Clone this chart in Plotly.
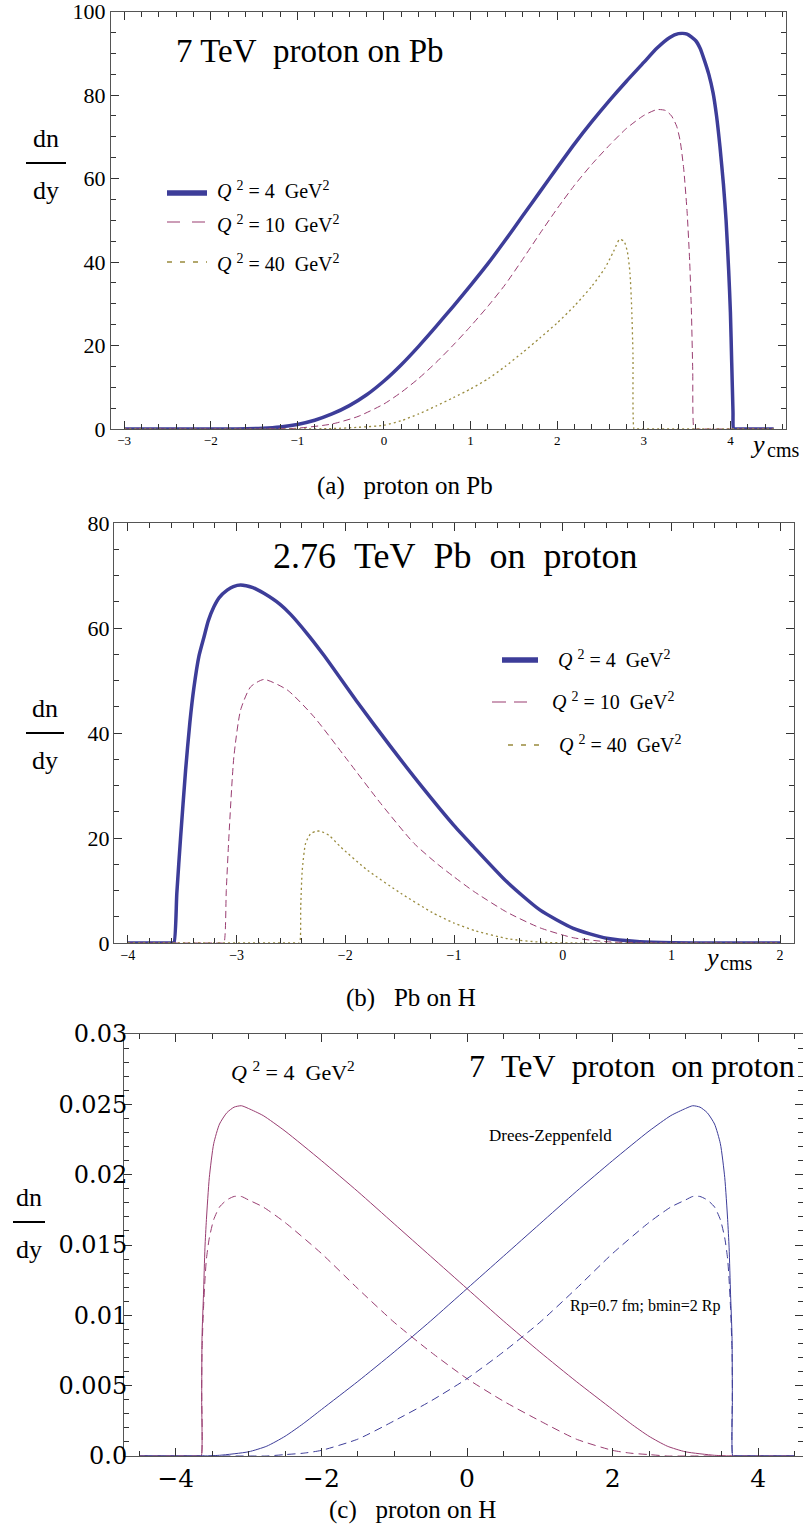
import plotly.graph_objects as go

W, H = 803, 1532

# ---------------- Panel (a): 7 TeV proton on Pb ----------------
a_q4_x = [-3.0, -2.0, -1.7, -1.4, -1.2, -1.0, -0.8, -0.6, -0.4, -0.2, 0.0, 0.2, 0.4, 0.6, 0.8,
          1.0, 1.2, 1.4, 1.6, 1.8, 2.0, 2.2, 2.4, 2.6, 2.8, 3.0, 3.15, 3.3, 3.4, 3.5, 3.6, 3.65, 3.7,
          3.75, 3.8, 3.84, 3.88, 3.92, 3.95, 3.98, 4.0, 4.015, 4.03, 4.035, 4.05, 4.5]
a_q4_y = [0, 0, 0.0, 0.2, 0.5, 1.1, 2.1, 3.6, 5.6, 8.2, 11.5, 15.4, 19.8, 24.5, 29.4,
          34.4, 39.6, 45.2, 51.0, 56.8, 62.6, 68.3, 73.6, 78.6, 83.3, 87.8, 91.2, 93.8, 94.7, 94.6, 93.0, 91.2, 88.3,
          85.0, 80.5, 75.0, 67.5, 58.5, 50.0, 38.0, 28.0, 16.0, 4.0, 0, 0, 0]

a_q10_x = [-3.0, -1.4, -1.0, -0.6, -0.3, 0.0, 0.2, 0.4, 0.6, 0.8, 1.0, 1.2, 1.4, 1.6, 1.8,
           2.0, 2.2, 2.4, 2.6, 2.8, 3.0, 3.15, 3.25, 3.32, 3.38, 3.42, 3.46, 3.5, 3.53, 3.55,
           3.565, 3.58, 3.6, 4.5]
a_q10_y = [0, 0, 0.2, 1.2, 3.0, 6.0, 8.8, 12.1, 15.9, 20.1, 24.6, 29.4, 34.6, 40.6, 46.8,
           52.8, 58.4, 63.4, 67.9, 72.0, 75.1, 76.5, 76.3, 75.0, 72.5, 69.0, 62.5, 52.0, 40.0, 28.0,
           14.0, 0, 0, 0]

a_q40_x = [-3.0, -1.0, -0.6, -0.3, 0.0, 0.2, 0.4, 0.6, 0.8, 1.0, 1.2, 1.4, 1.6, 1.8, 2.0,
           2.2, 2.4, 2.55, 2.65, 2.72, 2.77, 2.81, 2.84, 2.86, 2.875, 2.887, 2.9, 4.5]
a_q40_y = [0, 0, 0.1, 0.4, 0.9, 2.0, 3.6, 5.5, 7.5, 9.6, 12.0, 15.0, 18.3, 21.8, 25.4,
           29.5, 34.2, 38.5, 42.5, 45.4, 45.0, 42.5, 37.4, 29.0, 18.0, 0, 0, 0]

# ---------------- Panel (b): 2.76 TeV Pb on proton ----------------
b_q4_x = [-4.0, -3.6, -3.577, -3.55, -3.515, -3.469, -3.43, -3.393, -3.347, -3.30, -3.26, -3.21,
          -3.16, -3.087, -3.03, -2.963, -2.85, -2.749, -2.6, -2.503, -2.35, -2.197, -1.890, -1.583,
          -1.277, -1.001, -0.823, -0.516, -0.210, 0.097, 0.404, 0.710, 1.01, 1.4, 2.0]
b_q4_y = [0, 0, 0, 9.5, 20.2, 33.0, 42.0, 48.6, 54.6, 58.3, 61.4, 64.0,
          65.8, 67.2, 67.9, 68.2, 67.7, 66.6, 64.5, 62.6, 58.9, 54.8, 45.9, 37.4,
          29.3, 22.4, 18.4, 11.7, 6.3, 2.8, 0.9, 0.25, 0.05, 0.0, 0]

b_q10_x = [-4.0, -3.14, -3.117, -3.095, -3.071, -3.025, -2.963, -2.871, -2.749, -2.534, -2.289,
           -1.982, -1.675, -1.369, -1.15, -1.0, -0.823, -0.516, -0.210, 0.097, 0.404, 0.71, 2.0]
b_q10_y = [0, 0, 0, 10.0, 20.2, 35.5, 44.4, 48.8, 50.2, 48.2, 43.1,
           34.9, 26.6, 19.0, 15.0, 12.6, 9.9, 5.9, 2.9, 1.0, 0.25, 0.03, 0]

b_q40_x = [-4.0, -2.44, -2.42, -2.41, -2.396, -2.365, -2.32, -2.27, -2.227, -2.15, -2.043,
           -1.798, -1.491, -1.2, -1.0, -0.8, -0.5, -0.2, 0.1, 2.0]
b_q40_y = [0, 0, 0, 7.0, 13.9, 19.0, 20.8, 21.3, 21.3, 20.5, 18.3,
           13.9, 9.5, 5.8, 3.8, 2.3, 0.8, 0.15, 0, 0]

# ---------------- Panel (c): 7 TeV proton on proton ----------------
c_x = [-4.5, -3.67, -3.65, -3.645, -3.64, -3.62, -3.6, -3.58, -3.54, -3.48, -3.4, -3.3, -3.2, -3.1,
       -3.0, -2.8, -2.5, -2.0, -1.5, -1.0, -0.5, 0.0, 0.5, 1.0, 1.5, 2.0, 2.25, 2.5, 2.75, 3.0, 3.4, 3.66, 4.5]
c_dz_minus = [0, 0, 0, 0.004, 0.0085, 0.0115, 0.0148, 0.0168, 0.0198, 0.0222, 0.0236, 0.0244, 0.0248, 0.0249,
              0.0247, 0.0242, 0.0231, 0.0210, 0.0188, 0.0165, 0.0142, 0.0119, 0.0096, 0.0074, 0.0053,
              0.0033, 0.0023, 0.0014, 0.0007, 0.0003, 0.00005, 0, 0]
c_rp_minus = [0, 0, 0, 0.005, 0.0075, 0.0105, 0.0125, 0.0140, 0.0155, 0.0168, 0.0177, 0.0182, 0.01845, 0.01845,
              0.0182, 0.0177, 0.0166, 0.0144, 0.0119, 0.0095, 0.0074, 0.0055, 0.0039, 0.0025, 0.0012,
              0.0004, 0.0002, 0.0001, 0.0, 0.0, 0.0, 0, 0]
c_x_plus = [4.5, 3.67, 3.65, 3.645, 3.64, 3.62, 3.6, 3.58, 3.54, 3.48, 3.4, 3.3, 3.2, 3.1,
            3.0, 2.8, 2.5, 2.0, 1.5, 1.0, 0.5, 0.0, -0.5, -1.0, -1.5, -2.0, -2.25, -2.5, -2.75, -3.0, -3.4, -3.66, -4.5]

c_ytick_vals = [0, 0.005, 0.01, 0.015, 0.02, 0.025, 0.03]
c_ytick_text = ["0.0", "0.005", "0.01", "0.015", "0.02", "0.025", "0.03"]

legend_labels = ["4", "10", "40"]

BLUE = "#3d3d99"
MAG = "#993d71"
OLIVE = "#998b3d"
SERIF = "Liberation Serif, DejaVu Serif, Times New Roman, serif"
WIDE = "DejaVu Serif, Liberation Serif, serif"
SM = 0.6


def px(x):
    return x / W


def py(y):
    return 1 - y / H


fig = go.Figure()


def curve(x, y, xa, ya, color, width, dash="solid"):
    fig.add_trace(go.Scatter(x=x, y=y, mode="lines",
                             line=dict(color=color, width=width, dash=dash, shape="spline", smoothing=SM),
                             xaxis=xa, yaxis=ya, hoverinfo="skip"))


curve(a_q4_x, a_q4_y, "x", "y", BLUE, 3.5)
curve(a_q10_x, a_q10_y, "x", "y", MAG, 1, "7px,4px")
curve(a_q40_x, a_q40_y, "x", "y", OLIVE, 1.3, "2px,3px")
curve(b_q4_x, b_q4_y, "x2", "y2", BLUE, 3.5)
curve(b_q10_x, b_q10_y, "x2", "y2", MAG, 1, "7px,4px")
curve(b_q40_x, b_q40_y, "x2", "y2", OLIVE, 1.3, "2px,3px")
curve(c_x, c_dz_minus, "x3", "y3", MAG, 1)
curve(c_x, c_rp_minus, "x3", "y3", MAG, 1, "8px,5px")
curve(c_x_plus, c_dz_minus, "x3", "y3", BLUE, 1)
curve(c_x_plus, c_rp_minus, "x3", "y3", BLUE, 1, "8px,5px")


def ax(domain, rng, anchor, dtick, minor_dtick, fsize, standoff=0, family=SERIF, **kw):
    d = dict(domain=domain, range=rng, anchor=anchor, showline=True, linecolor="#555", linewidth=1,
             mirror="ticks", ticks="inside", ticklen=8, tickwidth=1, tickcolor="#333",
             showgrid=False, zeroline=False, tickmode="linear", tick0=0, dtick=dtick,
             automargin=False, ticklabelstandoff=standoff, ticklabeloverflow="allow",
             tickfont=dict(family=family, size=fsize, color="black"),
             minor=dict(ticks="inside", ticklen=5, tickwidth=1, tickcolor="#333",
                        tickmode="linear", tick0=0, dtick=minor_dtick, showgrid=False))
    d.update(kw)
    return d


fig.update_layout(
    width=W, height=H, margin=dict(l=0, r=0, t=0, b=0, autoexpand=False),
    plot_bgcolor="white", paper_bgcolor="white", showlegend=False,
    font=dict(family=SERIF),
    xaxis=ax([px(111), px(786)], [-3.152, 4.642], "y", 1, 0.2, 13, -1),
    yaxis=ax([py(429), py(11.5)], [0, 100], "x", 20, 5, 22),
    xaxis2=ax([px(114), px(794)], [-4.128, 2.128], "y2", 1, 0.2, 14, -1),
    yaxis2=ax([py(943), py(523)], [0, 80], "x2", 20, 5, 22, -1),
    xaxis3=ax([px(124), 1.0], [-4.712, 4.615], "y3", 2, 0.5, 25, 0, WIDE),
    yaxis3=ax([py(1456), py(1034)], [0, 0.03], "x3", 0.005, 0.001, 24, -9, WIDE,
              tickmode="array", tickvals=c_ytick_vals, ticktext=c_ytick_text),
)

ann = []
shapes = []


def text(x, y, s, size, xanchor="center", italic=False):
    ann.append(dict(x=px(x), y=py(y), xref="paper", yref="paper", text=s, showarrow=False,
                    xanchor=xanchor, yanchor="middle",
                    font=dict(family=SERIF, size=size, color="black",
                              style="italic" if italic else "normal")))


def hline(x0, x1, y, color, width, dash="solid"):
    shapes.append(dict(type="line", xref="paper", yref="paper", x0=px(x0), x1=px(x1),
                       y0=py(y), y1=py(y), line=dict(color=color, width=width, dash=dash)))


NB = "\u00a0"
# dn/dy labels
for bar_y, x0, x1 in [(163, 26, 66), (733, 26, 64), (1222, 13, 45)]:
    cx = (x0 + x1) / 2
    text(cx, bar_y - 25, "dn", 26)
    text(cx, bar_y + 27, "dy", 26)
    hline(x0, x1, bar_y, "black", 2)

# titles
text(310, 51, "7 TeV" + NB + NB + "proton on Pb", 33)
text(455, 556, "2.76" + NB + NB + "TeV" + NB + NB + "Pb" + NB + NB + "on" + NB + NB + "proton", 36)
text(632, 1066, "7" + NB + NB + "TeV" + NB + NB + "proton" + NB + NB + "on proton", 32)


def qlab(v):
    return "<i>Q</i>" + NB + "<sup>2</sup>" + NB + "=" + NB + v + NB + NB + "GeV<sup>2</sup>"


# legend a
for (ly, ty), v, col, w, dash in zip([(193, 190), (222, 224), (262, 263)], legend_labels,
                                     [BLUE, MAG, OLIVE], [5.5, 1.2, 1.3], ["solid", "13px,12px", "5px,8px"]):
    hline(167, 207, ly, col, w, dash)
    text(215, ty, qlab(v), 20, xanchor="left")

# legend b
for (lx0, lx1, ly), tx, v, col, w, dash in zip([(502, 538, 660), (492, 527, 702), (508, 545, 745)],
                                               [556, 550, 557], legend_labels,
                                               [BLUE, MAG, OLIVE], [5.5, 1.2, 1.3],
                                               ["solid", "14px,8px", "5px,8px"]):
    hline(lx0, lx1, ly, col, w, dash)
    text(tx, ly - 1, qlab(v), 20, xanchor="left")

# panel c texts
text(293, 1071, qlab("4"), 22)
text(550, 1135, "Drees-Zeppenfeld", 17)
text(645, 1306, "Rp=0.7 fm; bmin=2 Rp", 16)

# y_cms axis labels
text(757, 445, "y", 26, italic=True)
text(765, 450, "cms", 20, xanchor="left")
text(711, 957, "y", 26, italic=True)
text(718, 963, "cms", 20, xanchor="left")

# captions
text(405, 486, "(a)" + NB * 3 + "proton on Pb", 25)
text(411, 998, "(b)" + NB * 3 + "Pb on H", 25)
text(412, 1510, "(c)" + NB * 3 + "proton on H", 25)

fig.update_layout(annotations=ann, shapes=shapes)
fig.write_html("out.html", config={"displayModeBar": False, "staticPlot": True},
               post_script="document.body.style.margin='0';document.body.style.padding='0';"
                           "document.documentElement.style.overflow='hidden';")
